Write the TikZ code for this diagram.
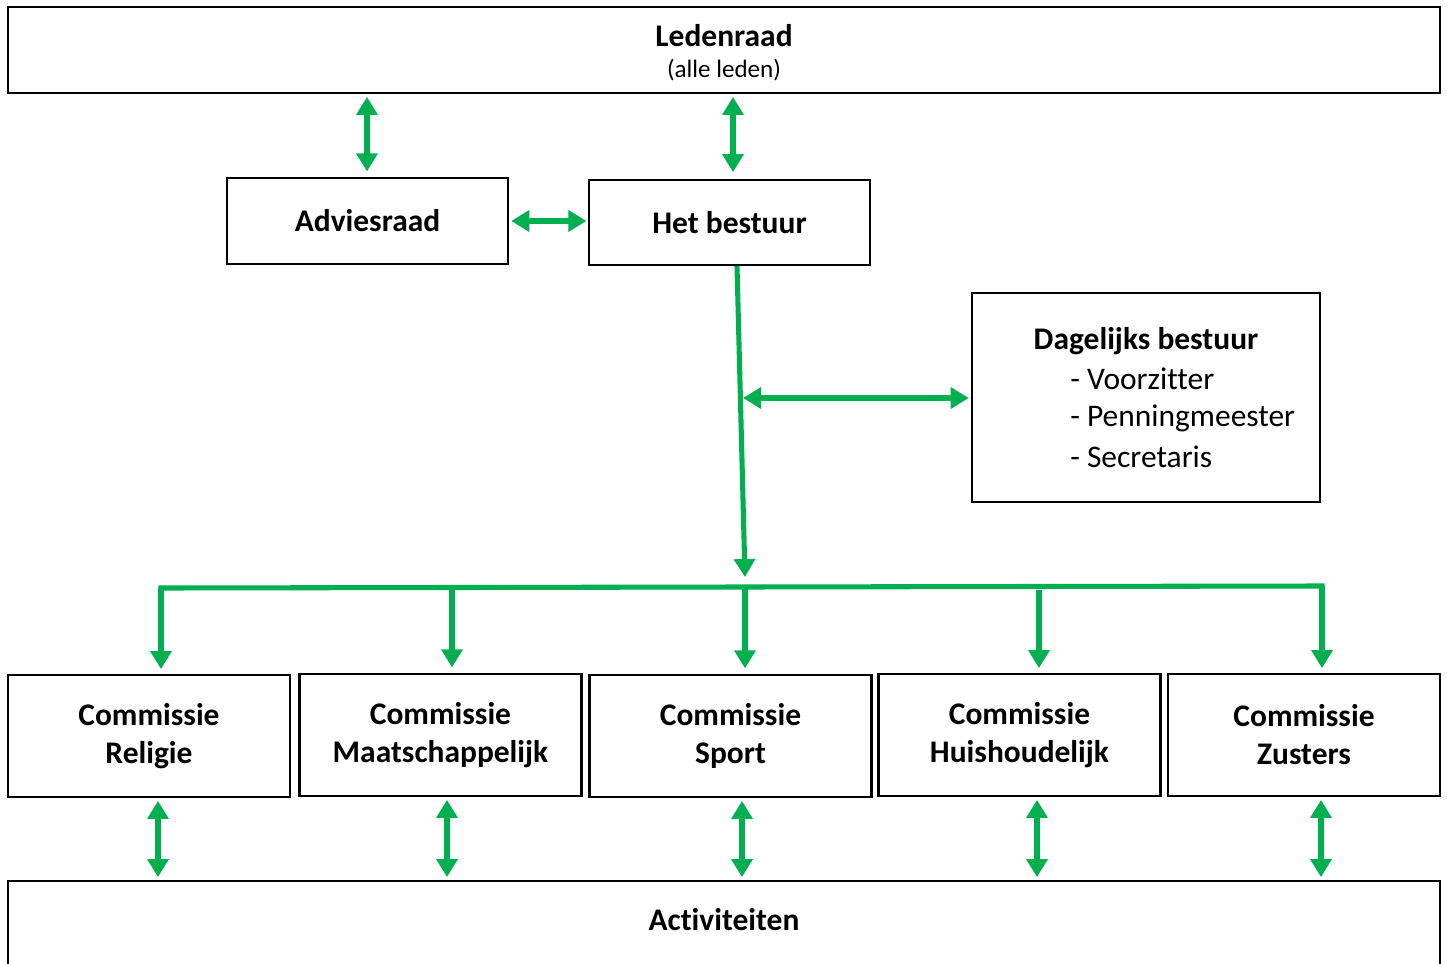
\documentclass[tikz,border=0pt]{standalone}
\usepackage{fontspec}
\setmainfont[Ligatures=NoCommon]{Carlito}
\usetikzlibrary{arrows.meta,calc}
\definecolor{grn}{HTML}{00B050}
\tikzset{
  box/.style={draw=black, line width=1.9pt, inner sep=0pt, align=center,
    font=\fontsize{23.6}{28.5}\selectfont\bfseries},
  txt/.style={inner sep=0pt, font=\fontsize{23.6}{28.5}\selectfont},
  gline/.style={draw=grn, line width=3.8pt},
  garr/.style={gline, -{Triangle[length=13.5pt,width=15.5pt]}},
  gdbl/.style={gline, {Triangle[length=13.5pt,width=15.5pt]}-{Triangle[length=13.5pt,width=15.5pt]}},
}
\begin{document}
\begin{tikzpicture}[x=0.75pt,y=-0.75pt]
\useasboundingbox (0,0) rectangle (1447,964);
\clip (0,0) rectangle (1447,964);
\fill[white] (0,0) rectangle (1447,964);

% boxes
\node[box, minimum width=1074pt, minimum height=64.5pt] (led) at (724,50) {};
\node[txt, font=\fontsize{23.6}{28.5}\selectfont\bfseries] (ledt) at (724,36) {Ledenraad};
\node[txt, font=\fontsize{18.8}{22}\selectfont] (leds) at (724,70) {(alle leden)};
\node[box, minimum width=210.75pt, minimum height=64.5pt] (adv) at (367.5,221) {Adviesraad};
\node[box, minimum width=210.75pt, minimum height=63.75pt] (hb) at (729.5,222.5) {Het bestuur};
\node[box, minimum width=261pt, minimum height=156.75pt] (dag) at (1146,397.5) {};
\node[txt, font=\fontsize{23.6}{28.5}\selectfont\bfseries] (dagt) at (1146,341) {Dagelijks bestuur};
\node[txt, anchor=west] (dag1) at (1070,379) {- Voorzitter};
\node[txt, anchor=west] (dag2) at (1070,418) {- Penningmeester};
\node[txt, anchor=west] (dag3) at (1070,457) {- Secretaris};

\node[box, minimum width=211.5pt, minimum height=91.5pt] (c1) at (149,736) {Commissie\\Religie};
\node[box, minimum width=211.5pt, minimum height=91.5pt] (c2) at (440.5,735) {Commissie\\Maatschappelijk};
\node[box, minimum width=211.5pt, minimum height=91.5pt] (c3) at (730.5,736) {Commissie\\Sport};
\node[box, minimum width=211.5pt, minimum height=91.5pt] (c4) at (1019.5,735) {Commissie\\Huishoudelijk};
\node[box, minimum width=204pt, minimum height=91.5pt] (c5) at (1304,735) {Commissie\\Zusters};

\node[box, minimum width=1074pt, minimum height=112.5pt] (act) at (724,956) {};
\node[txt, font=\fontsize{23.6}{28.5}\selectfont\bfseries] (actt) at (724,920) {Activiteiten};

% top arrows
\coordinate (a1) at (367,0);
\coordinate (a2) at (733,0);
\draw[gdbl, shorten <=2pt, shorten >=4pt] (led.south -| a1) -- (adv.north -| a1);
\draw[gdbl, shorten <=2pt, shorten >=5pt] (led.south -| a2) -- (hb.north -| a2);
\draw[gdbl, shorten <=1.5pt, shorten >=1pt] (adv.east) -- (adv.east -| hb.west);

% trunk
\coordinate (t0) at (737,266);
\coordinate (t1) at (745,577);
\coordinate (tj) at (741,398);
\draw[garr] (t0) -- (t1);
\draw[gdbl, shorten <=1.5pt, shorten >=1.5pt] (tj) -- (tj -| dag.west);

% bus
\coordinate (d1) at (161,588);
\coordinate (d2) at (452,587.5);
\coordinate (d3) at (745,587);
\coordinate (d4) at (1039,590);
\coordinate (d5) at (1322,586);
\draw[gline, line cap=rect] (d1) -- (d5);
\draw[garr, shorten >=3.5pt] (d1) -- (c1.north -| d1);
\draw[garr, shorten >=4pt] (d2) -- (c2.north -| d2);
\draw[garr, shorten >=4pt] (d3) -- (c3.north -| d3);
\draw[garr, shorten >=3.5pt] (d4) -- (c4.north -| d4);
\draw[garr, shorten >=3.5pt] (d5) -- (c5.north -| d5);

% bottom arrows
\coordinate (b1) at (158,0);
\coordinate (b2) at (447,0);
\coordinate (b3) at (742,0);
\coordinate (b4) at (1037,0);
\coordinate (b5) at (1321,0);
\draw[gdbl, shorten <=2pt, shorten >=2pt] (c1.south -| b1) -- (act.north -| b1);
\draw[gdbl, shorten <=2pt, shorten >=2pt] (c2.south -| b2) -- (act.north -| b2);
\draw[gdbl, shorten <=2pt, shorten >=2pt] (c3.south -| b3) -- (act.north -| b3);
\draw[gdbl, shorten <=2pt, shorten >=2pt] (c4.south -| b4) -- (act.north -| b4);
\draw[gdbl, shorten <=2pt, shorten >=2pt] (c5.south -| b5) -- (act.north -| b5);
\end{tikzpicture}
\end{document}
